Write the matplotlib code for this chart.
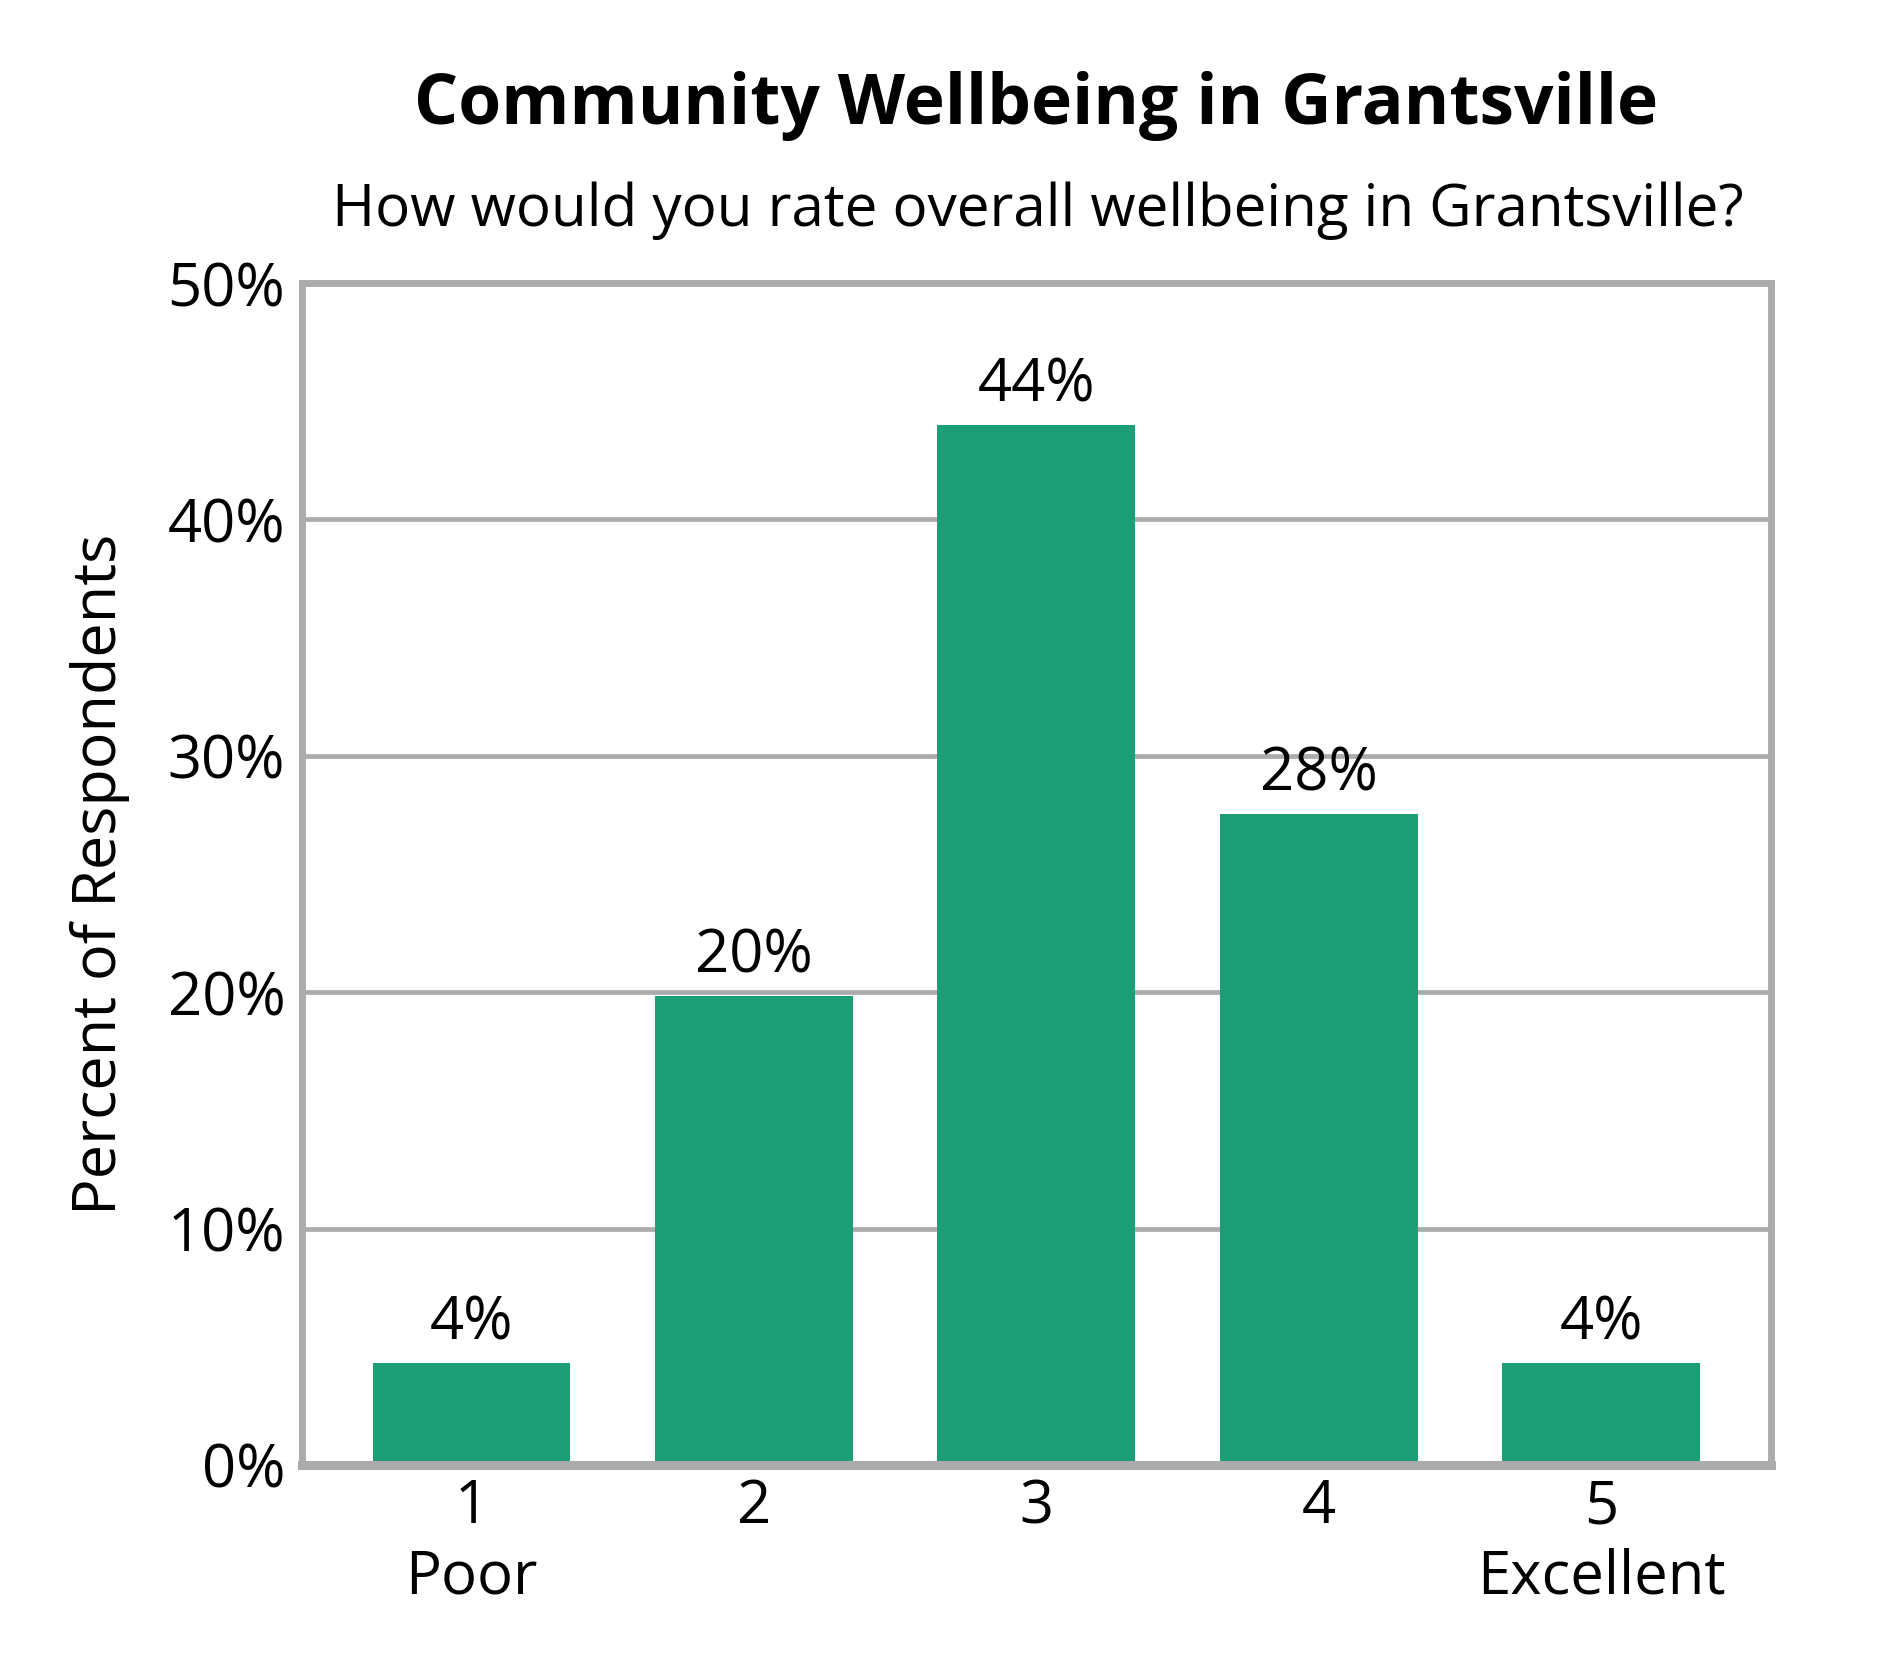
import numpy as np
import matplotlib.pyplot as plt
from matplotlib.ticker import FuncFormatter

plt.rcParams['font.family'] = ['Open Sans', 'DejaVu Sans']

ratings = [1, 2, 3, 4, 5]
tick_labels = ['1\nPoor', '2', '3', '4', '5\nExcellent']
percents = [4.3, 19.85, 44.0, 27.55, 4.3]
value_labels = ['4%', '20%', '44%', '28%', '4%']

bar_color = '#1c9e77'
grid_color = '#ababab'

fig = plt.figure(figsize=(18.9, 16.8), dpi=100)
ax = fig.add_axes([0.1598, 0.128, 0.777, 0.7035])

ax.bar(ratings, percents, width=0.70, color=bar_color, zorder=3)
for x, v, lab in zip(ratings, percents, value_labels):
    ax.annotate(lab, (x, v), xytext=(0, 7), textcoords='offset points',
                ha='center', va='bottom', fontsize=43)

ax.set_xlim(0.4, 5.6)
ax.set_ylim(0, 50)
ax.set_yticks(np.arange(0, 51, 10))
ax.yaxis.set_major_formatter(FuncFormatter(lambda v, p: '%d%%' % v))
ax.set_xticks(ratings)
ax.set_xticklabels(tick_labels, linespacing=1.22)
ax.tick_params(axis='both', length=0, labelsize=43)
ax.tick_params(axis='x', pad=9)
ax.tick_params(axis='y', pad=12)

ax.grid(axis='y', color=grid_color, linewidth=3.4, zorder=0)
for side in ['left', 'right', 'top']:
    ax.spines[side].set_color(grid_color)
    ax.spines[side].set_linewidth(5)
ax.spines['bottom'].set_color(grid_color)
ax.spines['bottom'].set_linewidth(6.5)
ax.spines['bottom'].set_zorder(4)

fig.text(0.053, 0.128 + 0.7035 / 2, 'Percent of Respondents', rotation=90,
         ha='center', va='center', fontsize=44)

fig.text(0.548, 0.926, 'Community Wellbeing in Grantsville', ha='center',
         va='baseline', fontsize=50, fontweight='bold')
fig.text(0.549, 0.8655, 'How would you rate overall wellbeing in Grantsville?',
         ha='center', va='baseline', fontsize=42)

fig.savefig('out.png', dpi=100)
